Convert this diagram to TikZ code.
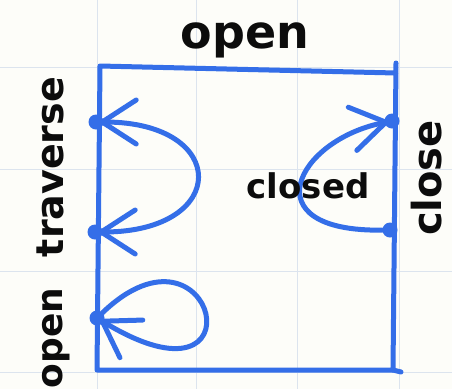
\documentclass[tikz,border=0pt]{standalone}
\usepackage{fontspec}
\setmainfont{DejaVu Sans}
\usetikzlibrary{arrows.meta}
\definecolor{pen}{RGB}{52,110,232}
\definecolor{paper}{RGB}{253,253,249}
\definecolor{gridc}{RGB}{220,228,238}
\definecolor{ink}{RGB}{12,12,12}

\begin{document}
\begin{tikzpicture}[
  x=1pt, y=-1pt,
  >={Straight Barb[length=34pt,width=44pt,round]},
  state/.style={circle, fill=pen, inner sep=0pt, minimum size=15pt},
  trans/.style={draw=pen, line width=5pt, line cap=round, line join=round},
  lab/.style={font=\fontsize{#1}{#1}\selectfont\bfseries, inner sep=0pt, text=ink, anchor=base},
  side/.style={lab=#1, rotate=90}
]

\fill[paper] (0,0) rectangle (452,389);
\useasboundingbox (0,0) rectangle (452,389);
\foreach \gx in {97,196,297,399}
  \draw[gridc, line width=1pt] (\gx,0) -- (\gx,389);
\foreach \gy in {67,169,271,372}
  \draw[gridc, line width=1pt] (0,\gy) -- (452,\gy);

\draw[trans] (396,63) -- (393,370) -- (97,370) -- (100,66) -- (396,73);
\draw[trans] (393,370) -- (401,372);

\node[state] (trav1) at (96,122) {};
\node[state] (trav2) at (95,232) {};
\node[state] (open1) at (97,318) {};
\node[state] (close1) at (392,121) {};
\node[state] (close2) at (390,230) {};

\draw[trans, <->, shorten <=-4pt, shorten >=-4pt] (trav2) .. controls (230,232) and (230,122) .. (trav1);
\draw[trans, ->, shorten >=-4pt] (close2) .. controls (250,232) and (296,140) .. (close1);
\draw[trans, ->, shorten >=-4pt] (open1) .. controls (215,205) and (265,420) .. (open1);

\node[lab=46] (toplab) at (245,48) {open};
\node[side=38] (travlab) at (63,167) {traverse};
\node[side=36] (openlab) at (62,338) {open};
\node[side=40] (closelab) at (441,178) {close};
\node[lab=34] (closedlab) at (308,198) {closed};

\end{tikzpicture}
\end{document}
